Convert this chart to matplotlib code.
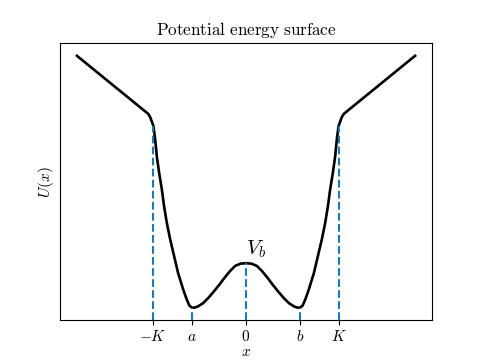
import matplotlib
matplotlib.use("Agg")
import matplotlib.pyplot as plt

plt.rcParams['mathtext.fontset'] = 'cm'

# Curve samples
x_vals = [-3.135, -1.815, -1.778, -1.717, -1.685, -1.654, -1.611, -1.561, -1.519,
          -1.469, -1.407, -1.333, -1.259, -1.167, -1.1, -1.05, -1.0, -0.95,
          -0.9, -0.8, -0.7, -0.6, -0.5, -0.4, -0.3, -0.2, -0.1, 0.0,
          0.1, 0.2, 0.3, 0.4, 0.5, 0.6, 0.7, 0.8, 0.9, 0.95, 1.0, 1.05, 1.1,
          1.167, 1.259, 1.333, 1.407, 1.469, 1.519, 1.561, 1.611, 1.654,
          1.685, 1.717, 1.778, 1.815, 3.135]
U_vals = [5.65, 4.35, 4.28, 4.08, 3.79, 3.40, 3.03, 2.66, 2.28,
          1.91, 1.54, 1.16, 0.78, 0.42, 0.19, 0.05, 0.0, 0.006,
          0.025, 0.10, 0.22, 0.36, 0.51, 0.67, 0.82, 0.94, 0.99, 1.0,
          0.99, 0.94, 0.82, 0.67, 0.51, 0.36, 0.22, 0.10, 0.025, 0.006, 0.0, 0.05, 0.19,
          0.42, 0.78, 1.16, 1.54, 1.91, 2.28, 2.66, 3.03, 3.40,
          3.79, 4.08, 4.28, 4.35, 5.65]

# Marked positions and curve height there
mark_x = [-1.72, -1.0, 0.0, 1.0, 1.72]
mark_U = [4.08, 0.0, 1.0, 0.0, 4.08]
tick_labels = ['$-K$', '$a$', '$0$', '$b$', '$K$']

fig, ax = plt.subplots(figsize=(4.8, 3.6), dpi=100)
ax.plot(x_vals, U_vals, color='black', lw=1.9)
ylo, yhi = ax.get_ylim()
ax.vlines(mark_x, ylo, mark_U, colors='#1f77b4', linestyles='--', lw=1.5)
ax.set_ylim(ylo, yhi)

ax.text(0.0, 1.2, '$V_b$', fontsize=15, ha='left', va='baseline')

ax.set_xticks(mark_x)
ax.set_xticklabels(tick_labels, fontsize=11)
ax.tick_params(axis='x', pad=3)
ax.set_yticks([])
ax.set_xlabel('$x$', fontsize=11, va='center')
ax.xaxis.set_label_coords(0.5, -0.112)
ax.set_ylabel('$U(x)$', fontsize=11, labelpad=3)
ax.set_title(r'$\mathrm{Potential\ energy\ surface}$', fontsize=12.3)

fig.savefig('out.png', dpi=100)
